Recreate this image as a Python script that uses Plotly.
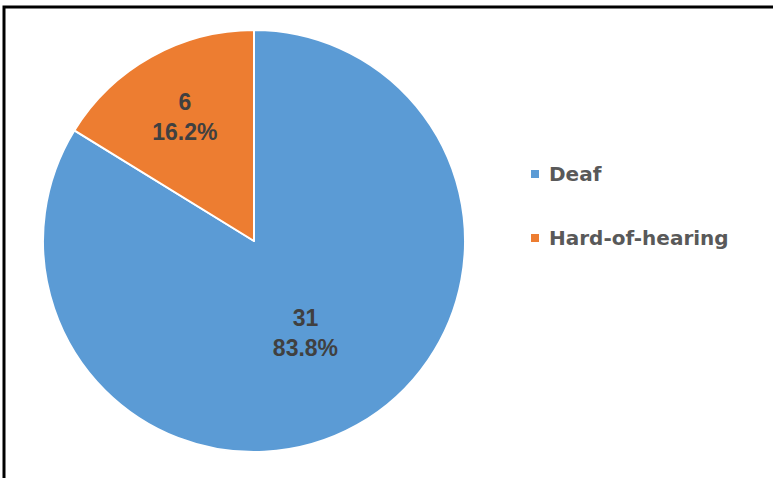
import plotly.graph_objects as go

W, H = 773, 478

labels = ["Deaf", "Hard-of-hearing"]
values = [31, 6]
colors = ["#5B9BD5", "#ED7D31"]

fig = go.Figure()
fig.add_trace(go.Pie(
    labels=labels,
    values=values,
    marker=dict(colors=colors, line=dict(color="white", width=2)),
    sort=False,
    direction="clockwise",
    rotation=0,
    texttemplate="%{value}<br>%{percent:.1%}",
    textposition="inside",
    insidetextorientation="horizontal",
    textfont=dict(family="Liberation Sans, Arial", size=23, color="#404040", weight="bold"),
    showlegend=False,
    hoverinfo="label+value+percent",
    domain=dict(x=[43 / W, 465 / W], y=[26 / H, 448 / H]),
))

# legend drawn with shapes + annotations
legend_y = [174, 238]
shapes = [dict(type="rect", xref="paper", yref="paper",
               x0=4 / W, x1=1.05, y0=-0.05, y1=(H - 7) / H,
               line=dict(color="black", width=3), fillcolor="rgba(0,0,0,0)")]
annotations = []
for lab, col, yy in zip(labels, colors, legend_y):
    shapes.append(dict(type="rect", xref="paper", yref="paper",
                       x0=531 / W, x1=539 / W, y0=(H - yy - 4) / H, y1=(H - yy + 4) / H,
                       line=dict(width=0), fillcolor=col))
    annotations.append(dict(text=lab, xref="paper", yref="paper", x=547 / W, y=(H - yy) / H,
                            xanchor="left", yanchor="middle", showarrow=False,
                            font=dict(family="DejaVu Sans", size=20, color="#595959", weight="bold")))

fig.update_layout(
    width=W, height=H,
    margin=dict(l=0, r=0, t=0, b=0),
    paper_bgcolor="white",
    plot_bgcolor="white",
    shapes=shapes,
    annotations=annotations,
)

fig.write_html("out.html")
